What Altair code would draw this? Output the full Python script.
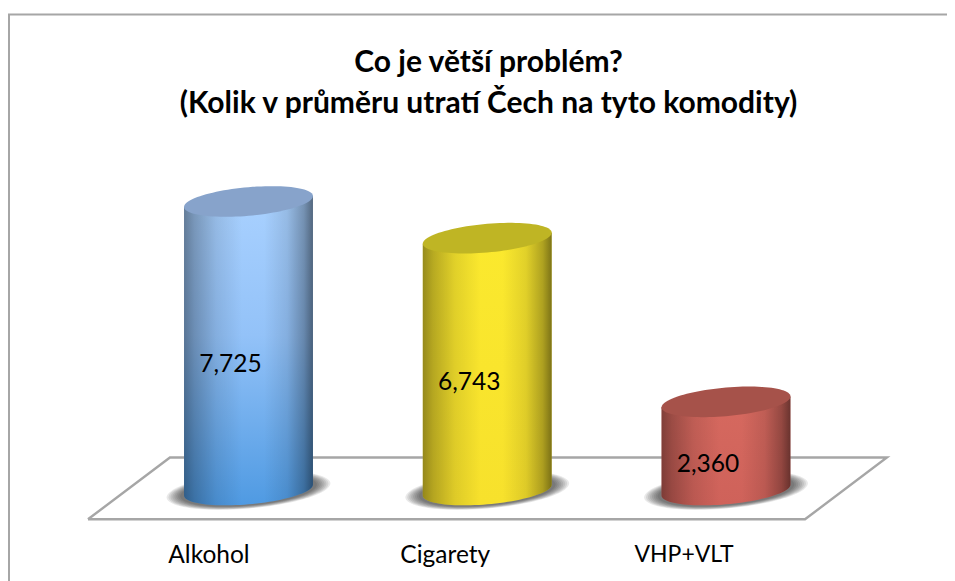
import math
import altair as alt
import pandas as pd

categories = ["Alkohol", "Cigarety", "VHP+VLT"]
values = [7725, 6743, 2360]
positions = [0, 1, 2]
value_labels = ["7,725", "6,743", "2,360"]
floor_x = [-0.6723, 2.331, 2.674, -0.329, -0.6723]
floor_y = [-784, -784, 870, 870, -784]

FONT = "Lato"
HALF = 0.27          # half-width of a cylinder in x units
PX_X = 238.75        # px per x unit
PX_Y = 288.5 / 7725  # px per y unit
SHEAR = 0.085
DEPTH = 0.222
xscale = alt.Scale(domain=[-1.0073, 2.9257], nice=False, zero=False)
yscale = alt.Scale(domain=[-803, 9639], nice=False, zero=False)
axis_labels = "['" + "','".join(categories) + "'][datum.value]"
x_axis = alt.Axis(
    values=positions, labelExpr=axis_labels, title=None, domain=False, ticks=False, grid=False,
    labelFont=FONT, labelColor="#000000", labelPadding=23,
    labelFontSize={"condition": {"test": "datum.value == 2", "value": 23}, "value": 24.5},
    labelOffset={"condition": {"test": "datum.value == 0", "value": -40}, "value": -42.5},
    labelFlush=False, labelOverlap=False,
)
X = alt.X("x:Q", scale=xscale, axis=x_axis)
Y = alt.Y("y:Q", scale=yscale, axis=None)
STEPS = [math.cos(math.pi * k / 48) for k in range(49)]
UNIT = HALF * PX_X / PX_Y  # half width expressed in y units


def ellipse(pos, level, grow=1.0):
    rows = []
    for t in STEPS:
        bow = DEPTH * math.sqrt(max(0, 1 - t * t))
        rows.append({
            "x": pos + HALF * t * grow,
            "y": level + UNIT * grow * (SHEAR * t + bow),
            "y2": level + UNIT * grow * (SHEAR * t - bow),
        })
    return pd.DataFrame(rows)


def side(pos, level):
    rows = []
    for t in STEPS:
        bow = DEPTH * math.sqrt(max(0, 1 - t * t))
        rows.append({
            "x": pos + HALF * t,
            "y": level + UNIT * SHEAR * t,
            "y2": UNIT * (SHEAR * t - bow),
        })
    return pd.DataFrame(rows)


def vgrad(stops):
    return alt.Gradient(
        gradient="linear", x1=0, x2=0, y1=0, y2=1,
        stops=[alt.GradientStop(color=c, offset=o) for o, c in stops],
    )


def hgrad(stops):
    return alt.Gradient(
        gradient="linear", x1=0, x2=1, y1=0, y2=0,
        stops=[alt.GradientStop(color=c, offset=o) for o, c in stops],
    )


shade = hgrad([
    (0.0, "rgba(0,0,0,0.40)"), (0.08, "rgba(0,0,0,0.27)"), (0.25, "rgba(0,0,0,0.10)"),
    (0.45, "rgba(0,0,0,0)"), (0.62, "rgba(0,0,0,0)"), (0.80, "rgba(0,0,0,0.10)"),
    (0.93, "rgba(0,0,0,0.30)"), (1.0, "rgba(0,0,0,0.50)"),
])
body_fill = [
    vgrad([(0, "#a9d1ff"), (0.45, "#93c2f8"), (1, "#4f9ae2")]),
    vgrad([(0, "#fbe92e"), (1, "#f7e12c")]),
    vgrad([(0, "#d6695f"), (1, "#cf625a")]),
]
top_fill = ["#87a3cb", "#bfb524", "#a6524a"]

layers = []

# frame
frame_color = "#a6a6a6"
layers.append(alt.Chart(pd.DataFrame({"a": [0]})).mark_rule(color=frame_color, strokeWidth=2).encode(
    x=alt.value(1), y=alt.value(-115.5), y2=alt.value(460)))
layers.append(alt.Chart(pd.DataFrame({"a": [0]})).mark_rule(color=frame_color, strokeWidth=2).encode(
    x=alt.value(0), x2=alt.value(939), y=alt.value(-115.5)))

# floor
floor = pd.DataFrame({"x": floor_x, "y": floor_y, "o": range(len(floor_x))})
layers.append(alt.Chart(floor).mark_line(color=frame_color, strokeWidth=2.4).encode(
    x=X, y=Y, order="o:Q"))

# shadows and cylinders
for pos, val, fill, top in zip(positions, values, body_fill, top_fill):
    for grow in (1.27, 1.24, 1.21, 1.18, 1.15, 1.12, 1.09, 1.06):
        layers.append(alt.Chart(ellipse(pos, -10, grow)).mark_area(color="#000000", opacity=0.085).encode(
            x=X, y=Y, y2="y2:Q"))
    s = side(pos, val)
    layers.append(alt.Chart(s).mark_area(color=fill).encode(x=X, y=Y, y2="y2:Q"))
    layers.append(alt.Chart(s).mark_area(color=shade).encode(x=X, y=Y, y2="y2:Q"))
    layers.append(alt.Chart(ellipse(pos, val)).mark_area(color=top).encode(x=X, y=Y, y2="y2:Q"))

# value labels
lab = pd.DataFrame({"x": positions, "value": values, "label": value_labels})
lab["y"] = lab["value"] / 2
layers.append(alt.Chart(lab).mark_text(
    font=FONT, fontSize=24.5, color="#000000", dx=-18, dy=19, align="center", baseline="middle"
).encode(x=X, y=Y, text="label:N"))

chart = alt.layer(*layers).properties(
    width=939,
    height=390,
    padding={"left": 0, "right": 0, "top": 122, "bottom": 61},
    autosize=alt.AutoSizeParams(type="none"),
    background="#ffffff",
    title=alt.TitleParams(
        text=["Co je větší problém?", "(Kolik v průměru utratí Čech na tyto komodity)"],
        font=FONT, fontSize=30, fontWeight="bold", color="#000000",
        anchor="middle", lineHeight=41, offset=0, dx=11, dy=105,
    ),
).configure_view(stroke=None)

chart.save("out.html", embed_options={"renderer": "svg", "actions": False})
